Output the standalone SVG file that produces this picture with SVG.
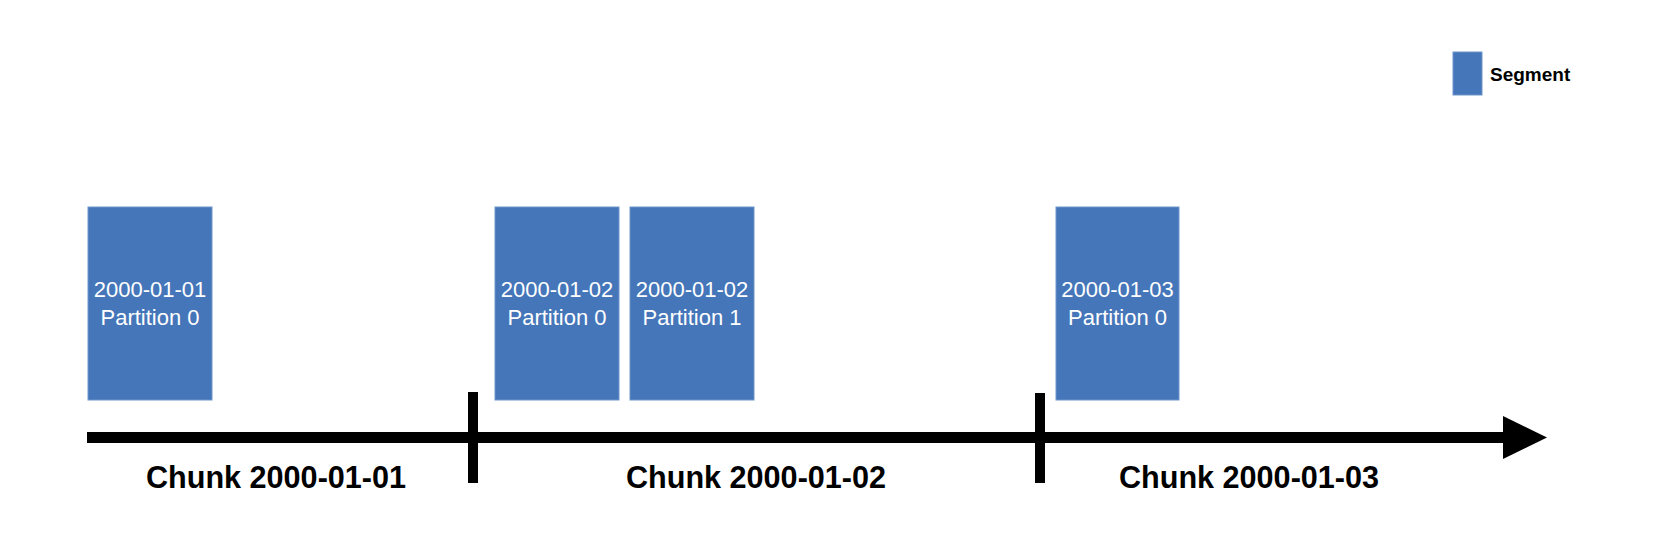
<svg xmlns="http://www.w3.org/2000/svg" width="1654" height="544" viewBox="0 0 1654 544">
<style>
.seg{fill:#4576b9;stroke:#6f96cd;stroke-width:1}
.st{font-family:"Liberation Sans",Arial,sans-serif;font-size:22px;fill:#ffffff;text-anchor:middle}
.ch{font-family:"Liberation Sans",Arial,sans-serif;font-size:30.6px;font-weight:bold;fill:#000;text-anchor:middle}
.lg{font-family:"Liberation Sans",Arial,sans-serif;font-size:19px;font-weight:bold;fill:#000}
</style>
<rect width="1654" height="544" fill="#ffffff"/>
<g id="legend">
<rect class="seg" x="1453" y="52" width="29" height="43"/>
<text class="lg" x="1490" y="81">Segment</text>
</g>
<g id="connectors">
<rect x="87" y="432" width="1418" height="11" fill="#000"/>
<polygon points="1503,416 1547,437.5 1503,459" fill="#000"/>
<rect x="468" y="392" width="10" height="91" fill="#000"/>
<rect x="1035" y="393" width="10" height="90" fill="#000"/>
</g>
<g id="seg1">
<rect class="seg" x="88" y="207" width="124" height="193"/>
<text class="st" x="150" y="297">2000-01-01</text>
<text class="st" x="150" y="325">Partition 0</text>
</g>
<g id="seg2">
<rect class="seg" x="495" y="207" width="124" height="193"/>
<text class="st" x="557" y="297">2000-01-02</text>
<text class="st" x="557" y="325">Partition 0</text>
</g>
<g id="seg3">
<rect class="seg" x="630" y="207" width="124" height="193"/>
<text class="st" x="692" y="297">2000-01-02</text>
<text class="st" x="692" y="325">Partition 1</text>
</g>
<g id="seg4">
<rect class="seg" x="1056" y="207" width="123" height="193"/>
<text class="st" x="1117.5" y="297">2000-01-03</text>
<text class="st" x="1117.5" y="325">Partition 0</text>
</g>
<g id="chunk1"><text class="ch" x="276" y="488">Chunk 2000-01-01</text></g>
<g id="chunk2"><text class="ch" x="756" y="488">Chunk 2000-01-02</text></g>
<g id="chunk3"><text class="ch" x="1249" y="488">Chunk 2000-01-03</text></g>
</svg>
